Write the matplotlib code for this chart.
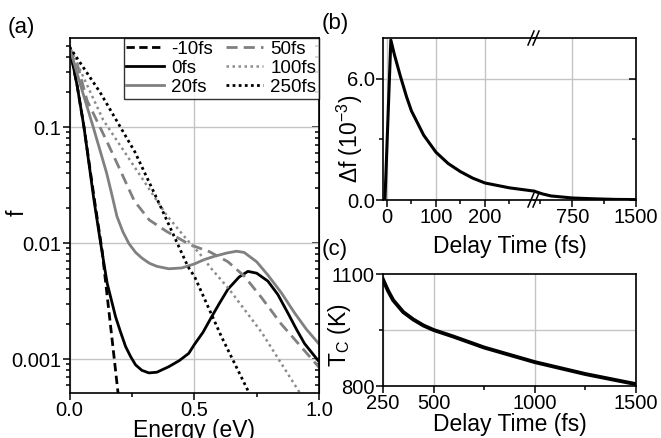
import matplotlib
matplotlib.use('Agg')
import matplotlib.pyplot as plt
from matplotlib.ticker import FixedLocator, NullFormatter, FuncFormatter

plt.rcParams['font.family'] = ['Liberation Sans', 'DejaVu Sans']
plt.rcParams['mathtext.fontset'] = 'custom'
plt.rcParams['mathtext.rm'] = 'Liberation Sans'
plt.rcParams['mathtext.it'] = 'Liberation Sans:italic'

# panel (a): distribution f(E) at several delays
e_m10 = [0.0, 0.031, 0.058, 0.10, 0.131, 0.151, 0.171, 0.195]
f_m10 = [0.49, 0.225, 0.10, 0.0235, 0.0085, 0.0035, 0.00146, 0.0005]

e_0 = [0.0, 0.031, 0.058, 0.098, 0.11, 0.125, 0.151, 0.185, 0.205, 0.225, 0.245, 0.265, 0.29,
       0.318, 0.35, 0.398, 0.44, 0.478, 0.50, 0.535, 0.569, 0.60, 0.635, 0.68, 0.715, 0.75,
       0.795, 0.835, 0.875, 0.91, 0.942, 1.0]
f_0 = [0.49, 0.225, 0.10, 0.0235, 0.016, 0.0099, 0.0045, 0.0023, 0.0017, 0.00128, 0.00105, 0.00089, 0.0008,
       0.00076, 0.00077, 0.00086, 0.00097, 0.00112, 0.00133, 0.0017, 0.0023, 0.0030, 0.0040, 0.0051, 0.0057, 0.0055,
       0.0047, 0.0036, 0.0025, 0.0018, 0.00136, 0.00095]

e_20 = [0.0, 0.042, 0.095, 0.149, 0.17, 0.19, 0.214, 0.238, 0.265, 0.291, 0.32, 0.35, 0.398, 0.45,
        0.50, 0.54, 0.582, 0.63, 0.669, 0.70, 0.75, 0.795, 0.85, 0.902, 0.95, 1.0]
f_20 = [0.49, 0.238, 0.10, 0.040, 0.026, 0.017, 0.0125, 0.0099, 0.0083, 0.0074, 0.0067, 0.0063, 0.0060, 0.0061,
        0.0066, 0.0072, 0.0077, 0.0082, 0.0085, 0.0083, 0.0069, 0.0053, 0.0037, 0.0025, 0.0018, 0.00135]

e_50 = [0.0, 0.03, 0.07, 0.15, 0.20, 0.26, 0.32, 0.389, 0.482, 0.562, 0.635, 0.70, 0.769, 0.849, 1.0]
f_50 = [0.49, 0.355, 0.17, 0.075, 0.044, 0.023, 0.0158, 0.0126, 0.0097, 0.0084, 0.0069, 0.0052, 0.0034,
        0.0020, 0.00085]

e_100 = [0.0, 0.135, 0.242, 0.389, 0.469, 0.522, 0.569, 0.64, 0.77, 0.926, 1.0]
f_100 = [0.49, 0.115, 0.052, 0.0174, 0.0108, 0.0081, 0.0060, 0.0040, 0.0017, 0.0005, 0.0003]

e_250 = [0.0, 0.122, 0.262, 0.362, 0.475, 0.502, 0.609, 0.72]
f_250 = [0.49, 0.20, 0.061, 0.0213, 0.00625, 0.0051, 0.00156, 0.00051]

# panel (b): delta f vs delay
t_df = [-10, -4, 8, 15, 27, 40, 50, 75, 100, 125, 150, 175, 200, 250, 300,
        400, 500, 750, 1000, 1250, 1500]
df = [0, 0, 7.9, 7.2, 6.15, 5.1, 4.4, 3.2, 2.36, 1.8, 1.4, 1.08, 0.84, 0.6, 0.44,
      0.3, 0.2, 0.1, 0.06, 0.03, 0.02]

# panel (c): electron temperature
t_tc = [250, 275, 300, 350, 400, 450, 500, 600, 750, 1000, 1250, 1500]
tc = [1085, 1055, 1030, 998, 978, 962, 950, 932, 903, 864, 832, 805]

W, H = 661, 438
fig = plt.figure(figsize=(W / 100, H / 100), dpi=100)

grid_kw = dict(color='#c4c4c4', linewidth=1.0)
tick_fs = 14.5
lab_fs = 16.5
pan_fs = 16


def box(l, r, t, b):
    return [l / W, 1 - b / H, (r - l) / W, (b - t) / H]


def style(ax):
    for s in ax.spines.values():
        s.set_linewidth(1.2)
    ax.tick_params(which='both', direction='out', labelsize=tick_fs, width=1.1, pad=1)
    ax.tick_params(which='major', length=5)
    ax.tick_params(which='minor', length=3)
    ax.set_axisbelow(True)


def ylab(ax, text, x, y):
    ax.set_ylabel(text, fontsize=lab_fs)
    ax.yaxis.set_label_coords(x, y)
    ax.yaxis.label.set_verticalalignment('center')


# ---------- (a)
ax = fig.add_axes(box(69.5, 319, 38, 393))
ax.plot(e_m10, f_m10, color='black', lw=2, dashes=(3, 1.6), label='-10fs')
ax.plot(e_0, f_0, color='black', lw=2, label='0fs')
ax.plot(e_20, f_20, color='#808080', lw=2, label='20fs')
ax.plot(e_50, f_50, color='#808080', lw=2, dashes=(4, 2.2), label='50fs')
ax.plot(e_100, f_100, color='#8c8c8c', lw=1.8, dashes=(1, 1.4), label='100fs')
ax.plot(e_250, f_250, color='black', lw=2, dashes=(1, 1.2), label='250fs')
ax.set_yscale('log')
ax.set_xlim(0, 1)
ax.set_ylim(5.1e-4, 0.585)
ax.xaxis.set_major_locator(FixedLocator([0, 0.5, 1.0]))
ax.xaxis.set_minor_locator(FixedLocator([0.25, 0.75]))
ax.xaxis.set_major_formatter(FuncFormatter(lambda v, p: '%.1f' % v))
ax.yaxis.set_major_locator(FixedLocator([0.001, 0.01, 0.1]))
ax.yaxis.set_major_formatter(FuncFormatter(lambda v, p: {0.001: '0.001', 0.01: '0.01', 0.1: '0.1'}.get(round(v, 4), '')))
ax.yaxis.set_minor_formatter(NullFormatter())
ax.grid(True, which='major', **grid_kw)
style(ax)
sec = ax.secondary_yaxis('right')
sec.tick_params(which='both', direction='in', labelright=False, width=1.1)
sec.tick_params(which='major', length=5)
sec.tick_params(which='minor', length=3)
sec.set_yticks([0.001, 0.01, 0.1])
sec.yaxis.set_major_formatter(NullFormatter())
sec.yaxis.set_minor_formatter(NullFormatter())
ylab(ax, 'f', -0.21, 0.507)
# the reference clips this label at the bottom edge as well
ax.set_xlabel('Energy (eV)', fontsize=lab_fs, labelpad=-1)
leg = ax.legend(loc='upper right', ncol=2, fontsize=13.5, frameon=True, fancybox=False,
                borderaxespad=0, handlelength=2.0, handletextpad=0.37, labelspacing=0.1,
                columnspacing=0.7, borderpad=0.15)
leg.get_frame().set_edgecolor('black')
leg.get_frame().set_linewidth(1.0)
fig.text(8 / W, 1 - 27 / H, '(a)', fontsize=pan_fs, va='center', ha='left')

# ---------- (b) broken axis
brk = 534
axl = fig.add_axes(box(383, brk, 38, 200))
axr = fig.add_axes(box(brk, 636, 38, 200))
for a in (axl, axr):
    a.plot(t_df, df, color='black', lw=2.2)
    a.set_ylim(0, 8)
    a.grid(True, which='major', **grid_kw)
    style(a)
axl.set_xlim(-8, 300)
axr.set_xlim(300, 1500)
axl.xaxis.set_major_locator(FixedLocator([0, 100, 200]))
axl.xaxis.set_minor_locator(FixedLocator([50, 150, 250]))
axr.xaxis.set_major_locator(FixedLocator([750, 1500]))
axr.xaxis.set_minor_locator(FixedLocator([375, 1125]))
axl.yaxis.set_major_locator(FixedLocator([0, 6]))
axl.yaxis.set_minor_locator(FixedLocator([3]))
axl.yaxis.set_major_formatter(FuncFormatter(lambda v, p: '%.1f' % v))
axr.yaxis.set_major_locator(FixedLocator([0, 6]))
axr.yaxis.set_minor_locator(FixedLocator([3]))
axr.tick_params(axis='y', which='both', direction='in', left=False, right=True, labelleft=False)
axl.spines['right'].set_visible(False)
axr.spines['left'].set_visible(False)
ylab(axl, r'$\Delta$f (10$^{\mathregular{-3}}$)', -0.22, 0.38)
for yy in (38, 200):
    for dx in (-3, 2):
        x0 = (brk + dx) / W
        fig.add_artist(plt.Line2D([x0 - 3 / W, x0 + 3 / W], [1 - (yy + 7) / H, 1 - (yy - 7) / H],
                                  color='black', lw=1.1))
fig.text(510 / W, 1 - 247 / H, 'Delay Time (fs)', fontsize=lab_fs, ha='center', va='center')
fig.text(322 / W, 1 - 23 / H, '(b)', fontsize=pan_fs, va='center', ha='left')

# ---------- (c)
axc = fig.add_axes(box(383, 636, 274, 386))
axc.plot(t_tc, tc, color='black', lw=2.8)
axc.set_xlim(250, 1500)
axc.set_ylim(800, 1100)
axc.xaxis.set_major_locator(FixedLocator([250, 500, 1000, 1500]))
axc.xaxis.set_minor_locator(FixedLocator([750, 1250]))
axc.yaxis.set_major_locator(FixedLocator([800, 1100]))
axc.yaxis.set_minor_locator(FixedLocator([950]))
axc.grid(True, axis='x', which='major', **grid_kw)
axc.grid(True, axis='y', which='minor', **grid_kw)
style(axc)
ylab(axc, r'T$_{\mathregular{C}}$ (K)', -0.17, 0.455)
axc.set_xlabel('Delay Time (fs)', fontsize=lab_fs, labelpad=0)
fig.text(322 / W, 1 - 250 / H, '(c)', fontsize=pan_fs, va='center', ha='left')

fig.savefig('out.png', dpi=100)
